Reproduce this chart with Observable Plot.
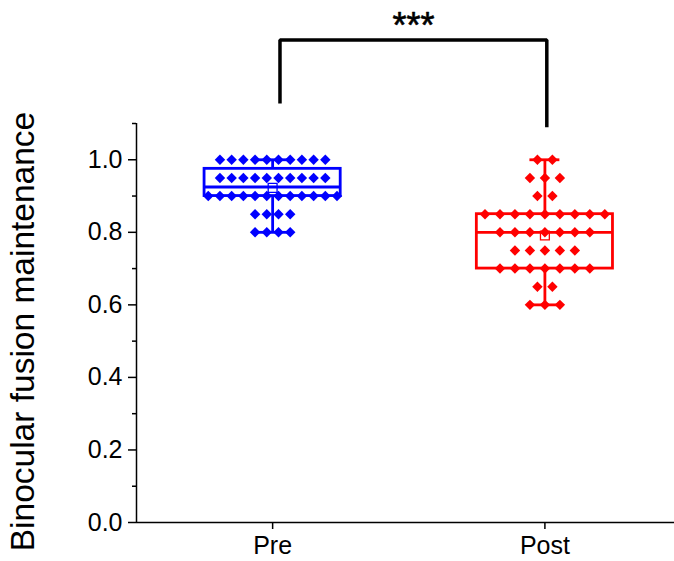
<!DOCTYPE html>
<html><head><meta charset="utf-8">
<script src="https://cdn.jsdelivr.net/npm/d3@7"></script>
<script src="https://cdn.jsdelivr.net/npm/@observablehq/plot@0.6"></script>
<style>
body{margin:0;background:#fff;}
#chart svg{display:block;font-family:"Liberation Sans",Arial,sans-serif;}
</style>
</head><body><div id="chart"></div>
<script>
const groups = ["Pre", "Post"];
const preValues = [
  0.8, 0.8, 0.8, 0.8,
  0.85, 0.85, 0.85, 0.85,
  0.9, 0.9, 0.9, 0.9, 0.9, 0.9, 0.9, 0.9, 0.9, 0.9, 0.9, 0.9,
  0.95, 0.95, 0.95, 0.95, 0.95, 0.95, 0.95, 0.95, 0.95, 0.95,
  1.0, 1.0, 1.0, 1.0, 1.0, 1.0, 1.0, 1.0, 1.0, 1.0
];
const postValues = [
  0.6, 0.6, 0.6,
  0.65, 0.65,
  0.7, 0.7, 0.7, 0.7, 0.7, 0.7, 0.7,
  0.75, 0.75, 0.75, 0.75, 0.75,
  0.8, 0.8, 0.8, 0.8, 0.8, 0.8, 0.8,
  0.85, 0.85, 0.85, 0.85, 0.85, 0.85, 0.85, 0.85, 0.85,
  0.9, 0.9,
  0.95, 0.95, 0.95,
  1.0, 1.0
];
const groupColors = ["#0000ff", "#ff0000"];
const yTicks = [0, 0.2, 0.4, 0.6, 0.8, 1.0];
const yMinorTicks = [0.1, 0.3, 0.5, 0.7, 0.9, 1.1];
const yLabel = "Binocular fusion maintenance";
const sigLabel = "***";
// significance bracket heights (data units)
const bracketLeftBottom = 1.155, bracketRightBottom = 1.09, bracketTop = 1.33;

// ---- layout/style constants ----
const spacing = [0.043, 0.055];   // horizontal spread of points per group (x units)
const boxHalf = 0.25, capHalf = 0.055;

const series = [preValues, postValues];

function quant(sorted, p) {
  const h = sorted.length * p, k = Math.floor(h + 1e-9);
  if (Math.abs(h - k) < 1e-9) return (sorted[k - 1] + sorted[k]) / 2;
  return sorted[k];
}

const points = [], stats = [];
series.forEach((vals, gi) => {
  const center = gi + 1;
  const counts = d3.rollup(vals, v => v.length, v => v);
  const seen = new Map();
  vals.forEach(v => {
    const n = counts.get(v), i = seen.get(v) || 0;
    seen.set(v, i + 1);
    points.push({g: gi, x: center + (i - (n - 1) / 2) * spacing[gi], y: v});
  });
  const s = vals.slice().sort((a, b) => a - b);
  stats.push({
    g: gi, x: center,
    min: s[0], max: s[s.length - 1],
    q1: quant(s, 0.25), med: quant(s, 0.5), q3: quant(s, 0.75),
    mean: d3.mean(s)
  });
});

const col = d => groupColors[d.g];
const bx1 = 1 + 0.027, bx2 = 2 + 0.007;
const bracket = [
  {x: bx1, y: bracketLeftBottom}, {x: bx1, y: bracketTop},
  {x: bx2, y: bracketTop}, {x: bx2, y: bracketRightBottom}
];

const chart = Plot.plot({
  width: 674, height: 561,
  marginLeft: 136, marginRight: 0, marginTop: 123, marginBottom: 39,
  style: {fontFamily: '"Liberation Sans", Arial, sans-serif', color: "#000", background: "#fff"},
  x: {type: "linear", domain: [0.5, 2.476], label: null},
  y: {domain: [0, 1.1], label: null},
  marks: [
    // whiskers (outside box)
    Plot.ruleX(stats, {x: "x", y1: "q3", y2: "max", stroke: col, strokeWidth: 2.8}),
    Plot.ruleX(stats, {x: "x", y1: "min", y2: "q1", stroke: col, strokeWidth: 2.8}),
    Plot.ruleY(stats, {y: "max", x1: d => d.x - capHalf, x2: d => d.x + capHalf, stroke: col, strokeWidth: 2.8}),
    Plot.ruleY(stats, {y: "min", x1: d => d.x - capHalf, x2: d => d.x + capHalf, stroke: col, strokeWidth: 2.8}),
    // box
    Plot.rect(stats, {x1: d => d.x - boxHalf, x2: d => d.x + boxHalf, y1: "q1", y2: "q3", fill: "none", stroke: col, strokeWidth: 2.8}),
    Plot.ruleY(stats, {y: "med", x1: d => d.x - boxHalf, x2: d => d.x + boxHalf, stroke: col, strokeWidth: 2.8}),
    // data points
    Plot.dot(points, {x: "x", y: "y", symbol: "diamond2", r: 4.7, fill: col, stroke: "none"}),
    // mean
    Plot.dot(stats, {x: "x", y: "mean", symbol: "square", r: 5, fill: "none", stroke: col, strokeWidth: 1.3}),
    // axes lines
    Plot.ruleY([0], {stroke: "#000", strokeWidth: 1.5}),
    Plot.ruleX([0.5], {y1: 0, y2: 1.1, stroke: "#000", strokeWidth: 1.5}),
    Plot.axisY({ticks: yTicks, tickSize: 8, tickPadding: 6, tickFormat: d3.format(".1f"), fontSize: 25, label: null, strokeWidth: 1.5}),
    Plot.axisY({ticks: yMinorTicks, tickSize: 4, tickFormat: () => "", label: null, strokeWidth: 1.5}),
    Plot.axisX({ticks: [1, 2], tickSize: 7, tickPadding: 7, tickFormat: d => groups[d - 1], fontSize: 25, label: null, strokeWidth: 1.5}),
    // y label
    Plot.text([yLabel], {text: d => d, frameAnchor: "left", rotate: -90, dx: -113, dy: 8.5, fontSize: 33.5, textAnchor: "middle", lineAnchor: "middle", fill: "#000"}),
    // significance bracket
    Plot.line(bracket, {x: "x", y: "y", stroke: "#000", strokeWidth: 3.5, strokeLinejoin: "miter", strokeLinecap: "butt"}),
    Plot.text([sigLabel], {text: d => d, x: (bx1 + bx2) / 2, y: bracketTop, dy: -2, fontSize: 36, lineAnchor: "bottom", textAnchor: "middle", fill: "#000", stroke: "#000", strokeWidth: 0.6})
  ]
});
document.getElementById("chart").appendChild(chart);
</script>
</body></html>
